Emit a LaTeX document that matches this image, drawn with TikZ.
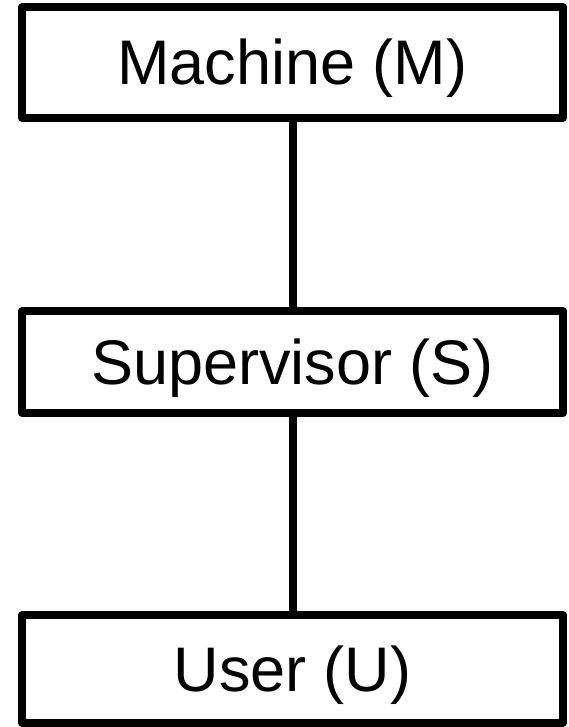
\documentclass[tikz,border=0pt]{standalone}
\usepackage{fontspec}
\setmainfont{Liberation Sans}
\begin{document}
\begin{tikzpicture}[x=1pt,y=-1pt,
  boxnode/.style={draw=black,line width=8pt,line join=round,minimum width=541pt,inner sep=0pt,
    font=\fontsize{63}{70}\selectfont,text height=45pt,text depth=1pt},
  link/.style={draw=black,line width=8pt}]
\useasboundingbox (0,0) rectangle (569,727);
\node[boxnode,minimum height=111pt] (M) at (292.5,62.5) {Machine (M)};
\node[boxnode,minimum height=102pt] (S) at (292.5,362) {Supervisor (S)};
\node[boxnode,minimum height=108pt] (U) at (292.5,669) {User (U)};
\draw[link] (M) -- (S);
\draw[link] (S) -- (U);
\end{tikzpicture}
\end{document}
